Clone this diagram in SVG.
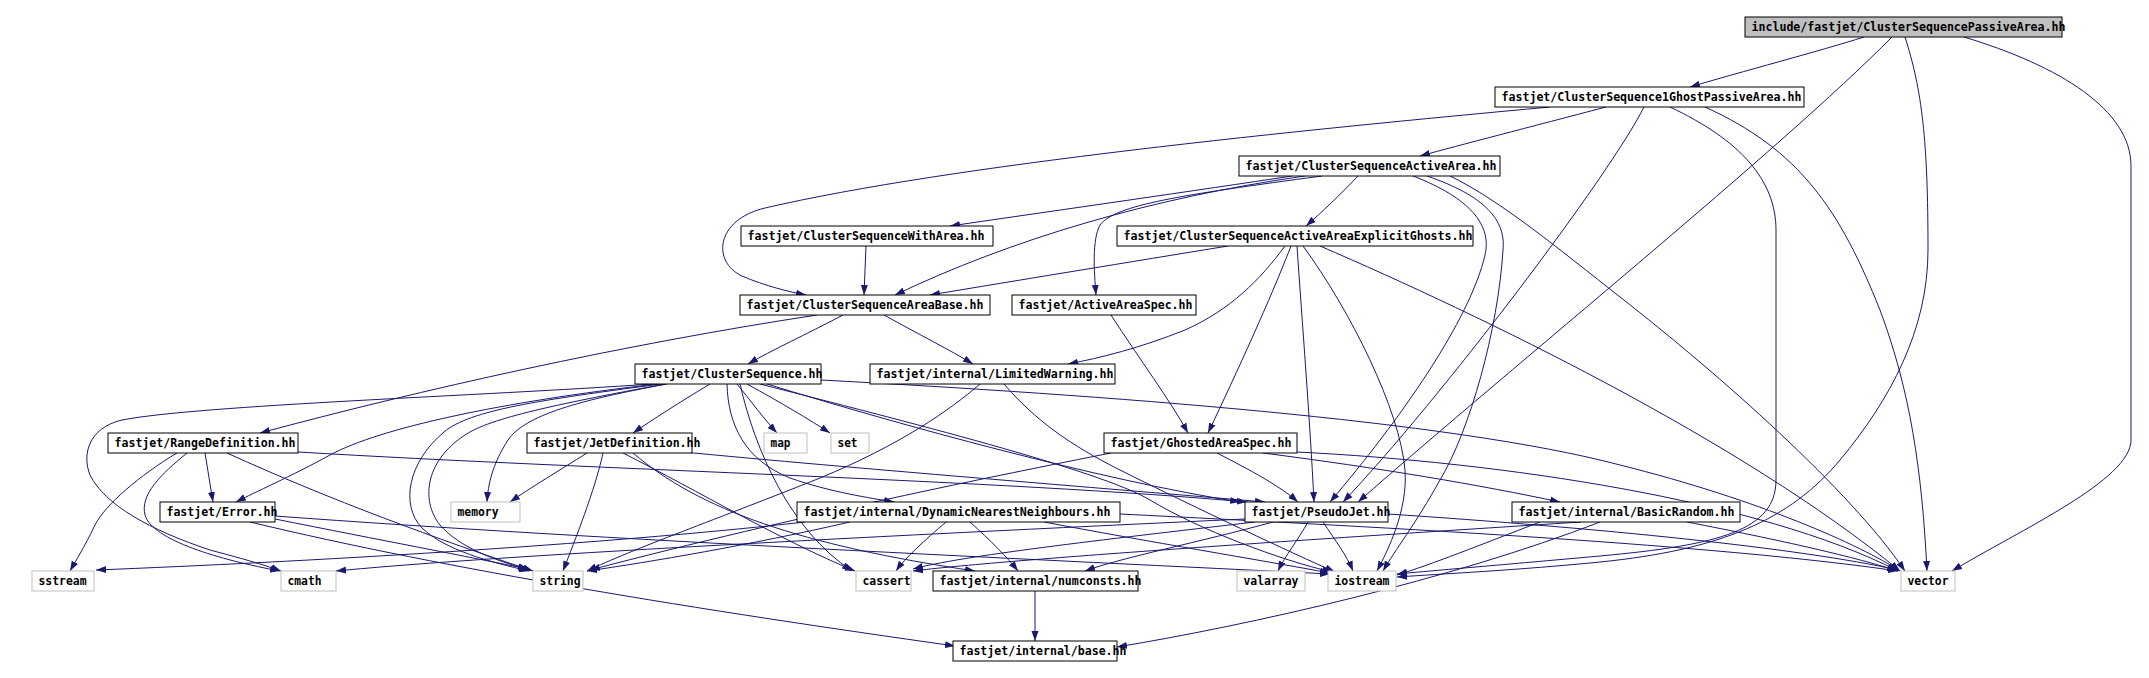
<svg xmlns="http://www.w3.org/2000/svg" width="2149" height="678" viewBox="0 0 2149 678">
<defs>
<marker id="a" markerWidth="10" markerHeight="8" refX="10" refY="4" orient="auto" markerUnits="userSpaceOnUse"><path d="M0,0.5 L10,4 L0,7.5 z" fill="#191970"/></marker>
<style>
.n rect{fill:#fff;stroke:#000;stroke-width:1}
.s rect{fill:#fff;stroke:#bfbfbf;stroke-width:1}
.r rect{fill:#bfbfbf;stroke:#000;stroke-width:1}
text{font-family:"DejaVu Sans Mono","Liberation Mono",monospace;font-size:13px;font-weight:bold;fill:#000}
#edges path{fill:none;stroke:#191970;stroke-width:1;marker-end:url(#a)}
</style>
</defs>
<rect width="2149" height="678" fill="#fff"/>
<g id="edges">
<path d="M1864,37 C1820,51 1740,72 1690,87"/>
<path d="M1892,37 C1780,150 1520,360 1358,502"/>
<path d="M1905,37 C1922,90 1928,140 1928,250 C1928,330 1890,400 1840,460 C1790,520 1720,550 1600,562 C1520,570 1440,574 1397,577"/>
<path d="M1964,37 C2060,66 2131,110 2131,166 L2131,440 C2131,480 2020,530 1952,571"/>
<path d="M1550,107 C1300,130 950,165 765,208 C715,220 712,262 742,276 C765,286 790,292 806,295"/>
<path d="M1606,107 C1530,127 1460,145 1420,156"/>
<path d="M1644,107 C1610,175 1440,400 1343,502"/>
<path d="M1670,107 C1740,140 1776,180 1776,230 L1776,480 C1776,530 1720,545 1600,556 C1500,565 1440,570 1397,574"/>
<path d="M1705,107 C1800,150 1840,210 1880,310 C1910,390 1922,470 1927,571"/>
<path d="M1292,176 C1200,190 1060,210 950,226"/>
<path d="M1305,176 C1150,198 1010,240 895,295"/>
<path d="M1322,176 C1180,195 1115,205 1100,225 C1092,240 1094,270 1096,295"/>
<path d="M1358,176 C1340,195 1322,212 1306,226"/>
<path d="M1413,176 C1470,198 1492,225 1485,255 C1470,320 1400,420 1330,502"/>
<path d="M1427,176 C1485,196 1506,220 1503,250 C1498,330 1470,430 1440,480 C1415,525 1395,550 1383,571"/>
<path d="M1450,176 C1500,200 1560,250 1620,297 C1720,375 1850,490 1905,571"/>
<path d="M866,246 L864,295"/>
<path d="M1228,246 C1130,262 1020,280 930,295"/>
<path d="M1285,246 C1260,280 1230,310 1185,330 C1140,348 1100,358 1068,364"/>
<path d="M1291,246 C1270,300 1238,370 1208,433"/>
<path d="M1297,246 C1302,320 1310,420 1314,502"/>
<path d="M1303,246 C1350,310 1400,410 1405,470 C1408,510 1388,550 1377,571"/>
<path d="M1320,246 C1480,315 1740,440 1900,571"/>
<path d="M817,315 C620,345 420,390 260,433"/>
<path d="M843,315 C805,335 772,350 748,364"/>
<path d="M884,315 C920,335 950,350 973,364"/>
<path d="M1111,315 C1140,360 1170,400 1188,433"/>
<path d="M652,384 C480,396 200,405 122,420 C88,428 82,455 90,475 C105,505 150,530 210,550 C240,558 262,564 281,571"/>
<path d="M657,384 C500,402 380,428 330,455 C290,477 255,492 236,502"/>
<path d="M661,384 C540,400 470,410 444,432 C408,462 400,505 422,528 C445,550 490,562 529,571"/>
<path d="M665,384 C580,400 500,415 470,432 C425,458 420,500 440,525 C460,548 495,560 529,570"/>
<path d="M667,384 C580,400 525,415 508,440 C492,465 488,485 487,502"/>
<path d="M710,384 C680,402 652,420 633,433"/>
<path d="M737,384 C750,400 765,420 777,433"/>
<path d="M747,384 C780,402 810,420 830,433"/>
<path d="M727,384 C728,425 745,460 790,478 C830,492 870,498 894,502"/>
<path d="M767,384 C900,425 1100,480 1240,502"/>
<path d="M760,384 C900,420 1100,470 1150,500 C1200,530 1280,560 1332,572"/>
<path d="M740,384 C755,450 790,530 852,571"/>
<path d="M821,380 C1100,395 1450,420 1620,465 C1760,500 1860,545 1900,571"/>
<path d="M980,384 C950,410 900,445 820,478 C720,518 630,550 587,571"/>
<path d="M1004,384 C1035,420 1070,445 1120,470 C1200,510 1290,552 1335,572"/>
<path d="M177,453 C140,475 105,505 95,525 C84,548 75,562 70,571"/>
<path d="M187,453 C160,475 140,495 145,515 C152,540 220,560 280,571"/>
<path d="M205,453 L213,502"/>
<path d="M227,453 C330,500 440,540 533,571"/>
<path d="M298,452 C600,470 1000,480 1247,502"/>
<path d="M587,453 C560,470 530,488 510,502"/>
<path d="M603,453 C595,490 575,540 563,571"/>
<path d="M623,453 C700,492 780,540 855,571"/>
<path d="M633,453 C700,510 800,545 975,571"/>
<path d="M683,452 C850,468 1100,488 1265,502"/>
<path d="M1217,453 C1250,470 1280,486 1298,502"/>
<path d="M1263,453 C1380,468 1480,485 1560,502"/>
<path d="M1297,452 C1500,462 1760,500 1898,571"/>
<path d="M1111,453 C1000,475 800,515 590,570"/>
<path d="M275,519 C380,540 470,557 528,569"/>
<path d="M275,516 C600,540 1050,560 1330,574"/>
<path d="M250,522 C450,570 700,610 955,646"/>
<path d="M946,522 C925,540 905,558 896,571"/>
<path d="M970,522 C990,540 1008,558 1018,571"/>
<path d="M850,522 C750,545 650,562 587,571"/>
<path d="M1044,522 C1150,542 1260,560 1330,573"/>
<path d="M1120,514 C1400,528 1720,545 1898,571"/>
<path d="M805,522 C600,545 300,562 96,570"/>
<path d="M1308,522 C1298,540 1285,556 1278,571"/>
<path d="M1323,522 C1335,540 1347,556 1353,571"/>
<path d="M1273,522 C1200,542 1120,558 1085,571"/>
<path d="M1255,522 C1100,540 960,556 913,569"/>
<path d="M1245,519 C900,535 500,555 336,571"/>
<path d="M1388,514 C1600,528 1800,548 1898,570"/>
<path d="M1581,522 C1300,540 1000,560 913,571"/>
<path d="M1540,522 C1480,545 1430,565 1397,575"/>
<path d="M1687,522 C1780,540 1860,558 1897,571"/>
<path d="M1600,522 C1450,580 1250,625 1117,647"/>
<path d="M1035,591 L1035,641"/>
</g>
<g id="n_root" class="r"><rect x="1745" y="17" width="317" height="20"/><text x="1751.5" y="31" textLength="314" lengthAdjust="spacingAndGlyphs">include/fastjet/ClusterSequencePassiveArea.hh</text></g>
<g id="n_1ghost" class="n"><rect x="1495" y="87" width="309" height="20"/><text x="1501.5" y="101" textLength="300" lengthAdjust="spacingAndGlyphs">fastjet/ClusterSequence1GhostPassiveArea.hh</text></g>
<g id="n_activearea" class="n"><rect x="1239" y="156" width="261" height="20"/><text x="1245.5" y="170" textLength="251" lengthAdjust="spacingAndGlyphs">fastjet/ClusterSequenceActiveArea.hh</text></g>
<g id="n_witharea" class="n"><rect x="741" y="226" width="252" height="20"/><text x="747.5" y="240" textLength="237" lengthAdjust="spacingAndGlyphs">fastjet/ClusterSequenceWithArea.hh</text></g>
<g id="n_explicitghosts" class="n"><rect x="1117" y="226" width="356" height="20"/><text x="1123.5" y="240" textLength="349" lengthAdjust="spacingAndGlyphs">fastjet/ClusterSequenceActiveAreaExplicitGhosts.hh</text></g>
<g id="n_areabase" class="n"><rect x="740" y="295" width="250" height="20"/><text x="746.5" y="309" textLength="237" lengthAdjust="spacingAndGlyphs">fastjet/ClusterSequenceAreaBase.hh</text></g>
<g id="n_activeareaspec" class="n"><rect x="1012" y="295" width="184" height="20"/><text x="1018.5" y="309" textLength="174" lengthAdjust="spacingAndGlyphs">fastjet/ActiveAreaSpec.hh</text></g>
<g id="n_clustersequence" class="n"><rect x="635" y="364" width="186" height="20"/><text x="641.5" y="378" textLength="181" lengthAdjust="spacingAndGlyphs">fastjet/ClusterSequence.hh</text></g>
<g id="n_limitedwarning" class="n"><rect x="870" y="364" width="245" height="20"/><text x="876.5" y="378" textLength="237" lengthAdjust="spacingAndGlyphs">fastjet/internal/LimitedWarning.hh</text></g>
<g id="n_rangedefinition" class="n"><rect x="108" y="433" width="190" height="20"/><text x="114.5" y="447" textLength="181" lengthAdjust="spacingAndGlyphs">fastjet/RangeDefinition.hh</text></g>
<g id="n_jetdefinition" class="n"><rect x="527" y="433" width="165" height="20"/><text x="533.5" y="447" textLength="167" lengthAdjust="spacingAndGlyphs">fastjet/JetDefinition.hh</text></g>
<g id="n_map" class="s"><rect x="764" y="433" width="43" height="20"/><text x="770.5" y="447" textLength="20" lengthAdjust="spacingAndGlyphs">map</text></g>
<g id="n_set" class="s"><rect x="831" y="433" width="38" height="20"/><text x="837.5" y="447" textLength="20" lengthAdjust="spacingAndGlyphs">set</text></g>
<g id="n_ghostedareaspec" class="n"><rect x="1104" y="433" width="193" height="20"/><text x="1110.5" y="447" textLength="181" lengthAdjust="spacingAndGlyphs">fastjet/GhostedAreaSpec.hh</text></g>
<g id="n_error" class="n"><rect x="160" y="502" width="115" height="20"/><text x="166.5" y="516" textLength="111" lengthAdjust="spacingAndGlyphs">fastjet/Error.hh</text></g>
<g id="n_memory" class="s"><rect x="451" y="502" width="69" height="20"/><text x="457.5" y="516" textLength="41" lengthAdjust="spacingAndGlyphs">memory</text></g>
<g id="n_dynamicnn" class="n"><rect x="797" y="502" width="323" height="20"/><text x="803.5" y="516" textLength="307" lengthAdjust="spacingAndGlyphs">fastjet/internal/DynamicNearestNeighbours.hh</text></g>
<g id="n_pseudojet" class="n"><rect x="1245" y="502" width="143" height="20"/><text x="1251.5" y="516" textLength="139" lengthAdjust="spacingAndGlyphs">fastjet/PseudoJet.hh</text></g>
<g id="n_basicrandom" class="n"><rect x="1512" y="502" width="228" height="20"/><text x="1518.5" y="516" textLength="216" lengthAdjust="spacingAndGlyphs">fastjet/internal/BasicRandom.hh</text></g>
<g id="n_sstream" class="s"><rect x="32" y="571" width="62" height="20"/><text x="38.5" y="585" textLength="48" lengthAdjust="spacingAndGlyphs">sstream</text></g>
<g id="n_cmath" class="s"><rect x="281" y="571" width="55" height="20"/><text x="287.5" y="585" textLength="34" lengthAdjust="spacingAndGlyphs">cmath</text></g>
<g id="n_string" class="s"><rect x="533" y="571" width="50" height="20"/><text x="539.5" y="585" textLength="41" lengthAdjust="spacingAndGlyphs">string</text></g>
<g id="n_cassert" class="s"><rect x="856" y="571" width="55" height="20"/><text x="862.5" y="585" textLength="48" lengthAdjust="spacingAndGlyphs">cassert</text></g>
<g id="n_numconsts" class="n"><rect x="933" y="571" width="205" height="20"/><text x="939.5" y="585" textLength="202" lengthAdjust="spacingAndGlyphs">fastjet/internal/numconsts.hh</text></g>
<g id="n_valarray" class="s"><rect x="1237" y="571" width="68" height="20"/><text x="1243.5" y="585" textLength="55" lengthAdjust="spacingAndGlyphs">valarray</text></g>
<g id="n_iostream" class="s"><rect x="1328" y="571" width="68" height="20"/><text x="1334.5" y="585" textLength="55" lengthAdjust="spacingAndGlyphs">iostream</text></g>
<g id="n_vector" class="s"><rect x="1901" y="571" width="54" height="20"/><text x="1907.5" y="585" textLength="41" lengthAdjust="spacingAndGlyphs">vector</text></g>
<g id="n_base" class="n"><rect x="953" y="641" width="164" height="20"/><text x="959.5" y="655" textLength="167" lengthAdjust="spacingAndGlyphs">fastjet/internal/base.hh</text></g>
</svg>
